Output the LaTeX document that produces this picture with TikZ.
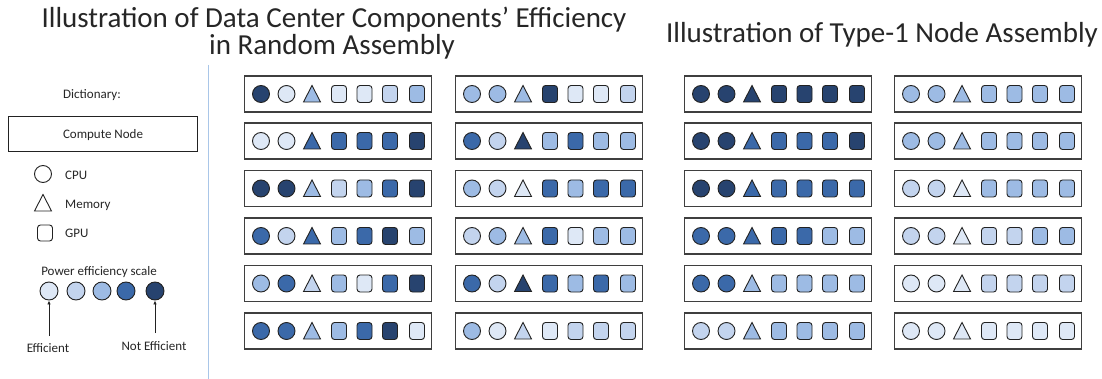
\documentclass[tikz,border=0pt]{standalone}
\usepackage{fontspec}
\setmainfont{Carlito}
\usetikzlibrary{calc,arrows.meta}
\definecolor{ca}{HTML}{DEE8F6}
\definecolor{cb}{HTML}{C3D4EE}
\definecolor{cc}{HTML}{9DBBE4}
\definecolor{cd}{HTML}{3B69A9}
\definecolor{ce}{HTML}{27436F}
\definecolor{edgec}{HTML}{222222}
\definecolor{boxc}{HTML}{3F3F3F}
\definecolor{sepc}{HTML}{A9C6E8}
\definecolor{titlec}{HTML}{262626}
\tikzset{
 cnode/.style={draw=boxc, line width=1.2pt, minimum width=187pt, minimum height=36pt, inner sep=0pt, anchor=west},
 cpu/.style={circle, draw=edgec, line width=0.9pt, minimum size=17pt, inner sep=0pt},
 mem/.style={draw=edgec, line width=0.9pt, line join=miter},
 gpu/.style={rectangle, rounded corners=3pt, draw=edgec, line width=0.9pt, minimum width=15pt, minimum height=17pt, inner sep=0pt},
 titletxt/.style={font=\fontsize{29}{31}\selectfont, text=titlec, anchor=base, inner sep=0pt},
 legtxt/.style={font=\fontsize{13}{15}\selectfont, text=titlec, inner sep=0pt},
 scalec/.style={circle, draw=edgec, line width=0.9pt, minimum size=18pt, inner sep=0pt},
 legarrow/.style={draw=edgec, line width=0.8pt, -{Latex[length=4pt,width=3.5pt]}},
}
\newcommand{\cnrow}[4]{%
 \node[cnode] (#1) at (#2,#3) {};
 \foreach \c [count=\i] in {#4} {
   \pgfmathsetmacro{\off}{{17,42.5,68,95,120.5,146,173}[\i-1]}
   \ifnum\i<3
     \node[cpu, fill=\c] (#1-\i) at ($(#1.west)+(\off,0)$) {};
   \else\ifnum\i=3
     \coordinate (#1-\i) at ($(#1.west)+(\off,0)$);
     \draw[mem, fill=\c] ($(#1-\i)+(0,-8.5)$) -- ++(8.5,16.5) -- ++(-17,0) -- cycle;
   \else
     \node[gpu, fill=\c] (#1-\i) at ($(#1.west)+(\off,0)$) {};
   \fi\fi
 }%
}
\begin{document}
\begin{tikzpicture}[x=1pt, y=-1pt]
\useasboundingbox[fill=white] (0,0) rectangle (1102,379);
% titles
\node[titletxt] (t1) at (334,28) {Illustration of Data Center Components’ Efficiency};
\node[titletxt] (t2) at (332,55) {in Random Assembly};
\node[titletxt] (t3) at (882,43) {Illustration of Type-1 Node Assembly};
% separator
\coordinate (sepa) at (208,65);
\coordinate (sepb) at (208,379);
\draw[sepc, line width=1pt] (sepa) -- (sepb);
% legend
\node[legtxt] (dict) at (92,95) {Dictionary:};
\node[draw=edgec, line width=1pt, minimum width=189pt, minimum height=35pt, inner sep=0pt] (cn) at (102.5,134.5) {};
\node[legtxt] (cnt) at (103,135) {Compute Node};
\node[cpu, fill=white] (lcpu) at (43,174) {};
\node[legtxt, anchor=west] (lcput) at (65,175) {CPU};
\coordinate (lmem) at (43,203);
\draw[mem, fill=white] ($(lmem)+(0,-8.5)$) -- ++(8.5,16.5) -- ++(-17,0) -- cycle;
\node[legtxt, anchor=west] (lmemt) at (65,205) {Memory};
\node[gpu, fill=white, minimum height=16pt] (lgpu) at (45,233) {};
\node[legtxt, anchor=west] (lgput) at (65,233) {GPU};
\node[legtxt] (pes) at (99,272) {Power efficiency scale};
\node[scalec, fill=ca] (s1) at (49,291) {};
\node[scalec, fill=cb] (s2) at (76,291) {};
\node[scalec, fill=cc] (s3) at (102,291) {};
\node[scalec, fill=cd] (s4) at (126,291) {};
\node[scalec, fill=ce] (s5) at (155,291) {};
\coordinate (ea) at (49,336);
\coordinate (na) at (155,333);
\draw[legarrow] (ea) -- (s1.south);
\draw[legarrow] (na) -- (s5.south);
\node[legtxt] (eff) at (48,348) {Efficient};
\node[legtxt] (neff) at (154,346) {Not Efficient};
% random assembly
\cnrow{a1}{244}{94}{ce,ca,cc,ca,ca,cb,cc}
\cnrow{a2}{244}{141}{ca,ca,cd,cd,cd,cd,ce}
\cnrow{a3}{244}{188.5}{ce,ce,cc,cb,cc,cd,ce}
\cnrow{a4}{244}{236}{cd,cb,cd,cc,cd,ce,cc}
\cnrow{a5}{244}{283.5}{cc,cd,cb,cc,ca,cd,ce}
\cnrow{a6}{244}{331}{cd,cd,cc,cc,cd,ce,ca}
\cnrow{b1}{455}{94}{cc,cc,cc,ce,ca,ca,cb}
\cnrow{b2}{455}{141}{cd,cb,ce,cc,cd,cc,cc}
\cnrow{b3}{455}{188.5}{cc,cb,ca,cd,cc,cd,cd}
\cnrow{b4}{455}{236}{cb,cc,cc,cd,ca,cc,cc}
\cnrow{b5}{455}{283.5}{cd,cb,ce,cd,cc,cd,cc}
\cnrow{b6}{455}{331}{cc,ca,cb,ca,cb,cb,cb}
% type-1
\cnrow{c1}{684}{94}{ce,ce,ce,ce,ce,ce,ce}
\cnrow{c2}{684}{141}{ce,ce,cd,cd,cd,cd,ce}
\cnrow{c3}{684}{188.5}{ce,ce,cd,cd,cd,cd,cd}
\cnrow{c4}{684}{236}{cd,cd,cd,cd,cd,cc,cc}
\cnrow{c5}{684}{283.5}{cd,cd,cc,cc,cc,cc,cc}
\cnrow{c6}{684}{331}{cb,cb,cc,cc,cc,cc,cc}
\cnrow{d1}{894}{94}{cc,cc,cc,cc,cc,cc,cc}
\cnrow{d2}{894}{141}{cc,cc,cc,cc,cc,cc,cc}
\cnrow{d3}{894}{188.5}{cb,cb,ca,cc,cc,cc,cc}
\cnrow{d4}{894}{236}{cb,cb,ca,cb,cb,cc,cc}
\cnrow{d5}{894}{283.5}{ca,ca,ca,cb,cb,cb,cb}
\cnrow{d6}{894}{331}{ca,ca,ca,ca,ca,ca,ca}
\end{tikzpicture}
\end{document}
